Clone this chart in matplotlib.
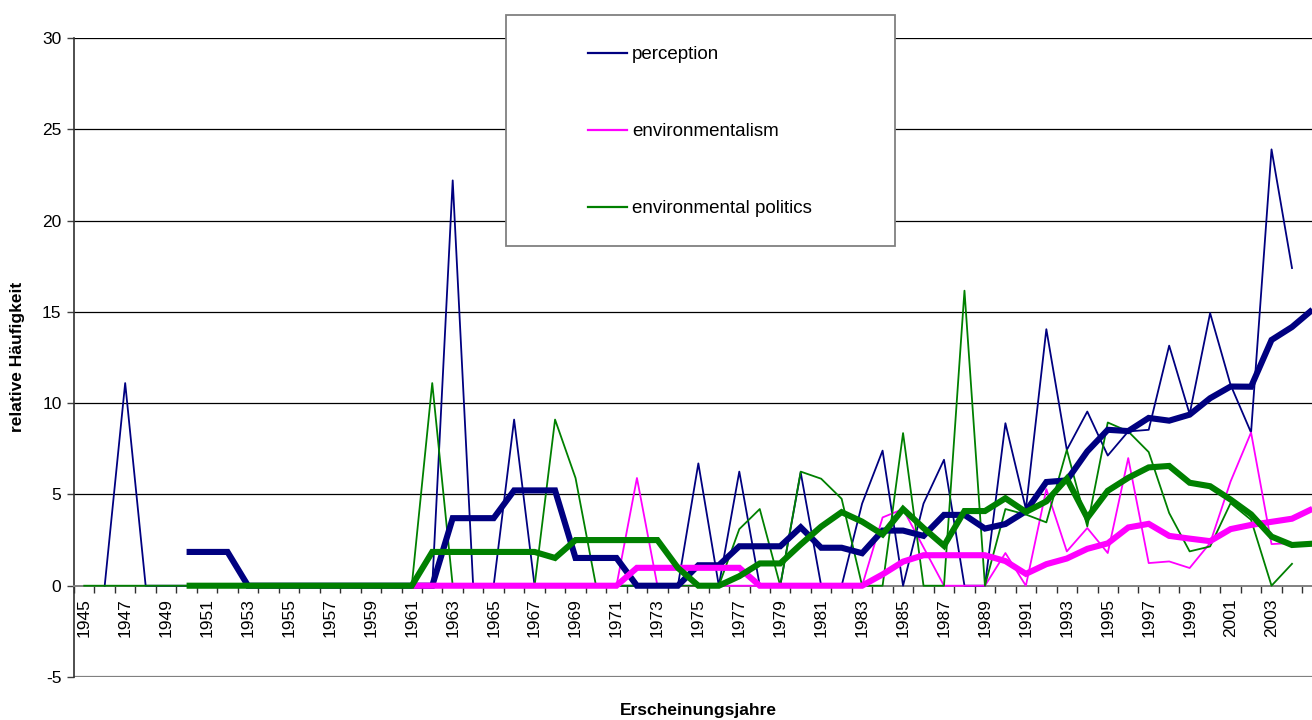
import numpy as np
import matplotlib
matplotlib.use("Agg")
import matplotlib.pyplot as plt
from matplotlib.patches import Rectangle

plt.rcParams['font.family'] = ['Liberation Sans', 'DejaVu Sans']
plt.rcParams['axes.unicode_minus'] = False

nan = np.nan
years = list(range(1945, 2006))

# thin lines: yearly values
perception = [nan, 0, 11.1, 0, 0,
              0, 0, 0, 0, 0, 0, 0, 0, 0, 0,
              0, 0, 0, 22.2, 0, 0, 9.1, 0, 0, 0,
              0, 0, 0, 0, 0, 6.7, 0, 6.25, 0, 0,
              6.2, 0, 0, 4.5, 7.4, 0, 4.5, 6.9, 0, 0,
              8.9, 4.2, 14.05, 7.44, 9.54, 7.13, 8.45, 8.54, 13.15, 9.4,
              14.93, 11.0, 8.39, 23.9, 17.4, nan]
environmentalism = [nan] * 11 + [0, 0, 0, 0,
              0, 0, 0, 0, 0, 0, 0, 0, 0, 0,
              0, 0, 5.9, 0, 0, 0, 0, 0, 0, 0,
              0, 0, 0, 0, 3.74, 4.2, 2.1, 0, 0, 0,
              1.79, 0, 5.29, 1.88, 3.16, 1.79, 6.99, 1.24, 1.33, 0.97,
              2.34, 5.71, 8.39, 2.28, 2.34, nan]
env_politics = [0, 0, 0, 0, 0,
              0, 0, 0, 0, 0, 0, 0, 0, 0, 0,
              0, 0, 11.1, 0, 0, 0, 0, 0, 9.1, 5.9,
              0, 0, 0, 0, 0, 0, 0, 3.1, 4.2, 0,
              6.25, 5.86, 4.76, 0, 0, 8.36, 0, 0, 16.16, 0,
              4.2, 3.9, 3.47, 7.44, 3.25, 8.94, 8.45, 7.32, 3.98, 1.88,
              2.15, 4.52, 3.61, 0, 1.2, nan]

# thick lines: moving averages
perception_ma = [nan] * 5 + [1.85, 1.85, 1.85, 0, 0, 0, 0, 0, 0, 0,
              0, 0, 0, 3.7, 3.7, 3.7, 5.22, 5.22, 5.22, 1.52,
              1.52, 1.52, 0, 0, 0, 1.12, 1.12, 2.16, 2.16, 2.16,
              3.2, 2.08, 2.08, 1.78, 3.02, 3.02, 2.73, 3.88, 3.88, 3.13,
              3.38, 4.08, 5.68, 5.77, 7.36, 8.54, 8.47, 9.19, 9.04, 9.37,
              10.27, 10.91, 10.9, 13.46, 14.17, 15.12]
environmentalism_ma = [nan] * 16 + [0, 0, 0, 0, 0, 0, 0, 0, 0,
              0, 0, 0.98, 0.98, 0.98, 0.98, 0.98, 0.98, 0, 0,
              0, 0, 0, 0, 0.62, 1.32, 1.67, 1.67, 1.67, 1.67,
              1.35, 0.65, 1.18, 1.49, 2.02, 2.32, 3.19, 3.39, 2.73, 2.58,
              2.44, 3.10, 3.33, 3.50, 3.67, 4.21]
env_politics_ma = [nan] * 5 + [0, 0, 0, 0, 0, 0, 0, 0, 0, 0,
              0, 0, 1.85, 1.85, 1.85, 1.85, 1.85, 1.85, 1.52, 2.5,
              2.5, 2.5, 2.5, 2.5, 0.98, 0, 0, 0.52, 1.22, 1.22,
              2.26, 3.24, 4.03, 3.51, 2.81, 4.2, 3.16, 2.19, 4.09, 4.09,
              4.79, 4.04, 4.62, 5.86, 3.71, 5.2, 5.91, 6.48, 6.56, 5.64,
              5.45, 4.72, 3.91, 2.69, 2.23, 2.30]

labels = ["perception", "environmentalism", "environmental politics"]
colors = ["#000080", "#FF00FF", "#008000"]

W, H = 1312, 720
fig = plt.figure(figsize=(W / 100, H / 100), dpi=100)
ax_left, ax_right, ax_top, ax_bot = 74, 1322.7, 38, 677
ax = fig.add_axes([ax_left / W, (H - ax_bot) / H, (ax_right - ax_left) / W, (ax_bot - ax_top) / H])

x = np.arange(len(years))
thin = [perception, environmentalism, env_politics]
thick = [perception_ma, environmentalism_ma, env_politics_ma]
handles = []
for vals, c, lab in zip(thin, colors, labels):
    h, = ax.plot(x, np.array(vals, dtype=float), color=c, lw=1.3, label=lab, zorder=3)
    handles.append(h)
for vals, c in zip(thick, colors):
    ax.plot(x, np.array(vals, dtype=float), color=c, lw=4.4, zorder=4,
            solid_joinstyle='miter', solid_capstyle='butt')

ax.set_xlim(-0.5, len(years) - 0.5)
ax.set_ylim(-5, 30)
ax.set_yticks(np.arange(-5, 31, 5))
ax.tick_params(axis='y', labelsize=12.5, length=5, width=1, color='#404040', pad=4)

for v in range(5, 31, 5):
    ax.axhline(v, color='black', lw=0.9, zorder=1)
ax.axhline(-5, color='#808080', lw=1.6, zorder=2)

# category axis at 0
ax.spines['bottom'].set_position(('data', 0))
ax.spines['bottom'].set_color('#808080')
ax.spines['bottom'].set_linewidth(1.4)
ax.spines['left'].set_color('#303030')
ax.spines['left'].set_linewidth(1.2)
ax.spines['top'].set_visible(False)
ax.spines['right'].set_visible(False)

label_years = list(range(1945, 2004, 2))
ax.set_xticks([years.index(y) for y in label_years])
ax.set_xticklabels([str(y) for y in label_years], rotation=90, fontsize=12.5)
ax.set_xticks(np.arange(-0.5, len(years), 1), minor=True)
ax.tick_params(axis='x', which='major', length=0, pad=9)
ax.tick_params(axis='x', which='minor', length=5, width=1, color='#303030')

fig.text(698 / W, 1 - 710 / H, "Erscheinungsjahre", ha='center', va='center',
         fontsize=12.5, fontweight='bold')
fig.text(18 / W, 1 - 357 / H, "relative Häufigkeit", ha='center', va='center',
         rotation=90, fontsize=12.5, fontweight='bold')

# legend box
fig.patches.append(Rectangle((506 / W, 1 - 246 / H), (895 - 506) / W, (246 - 15) / H,
                             transform=fig.transFigure, facecolor='white',
                             edgecolor='#808080', lw=1.3, zorder=5))
leg = fig.legend(handles=handles, labels=labels, loc='upper left',
                 bbox_to_anchor=(588 / W, 1 - 46 / H), frameon=False,
                 fontsize=13.5, handlelength=2.1, handletextpad=0.25,
                 labelspacing=3.2, borderpad=0, borderaxespad=0)
leg.set_zorder(6)
for lh in leg.get_lines():
    lh.set_linewidth(1.6)

fig.savefig("out.png", dpi=100)
